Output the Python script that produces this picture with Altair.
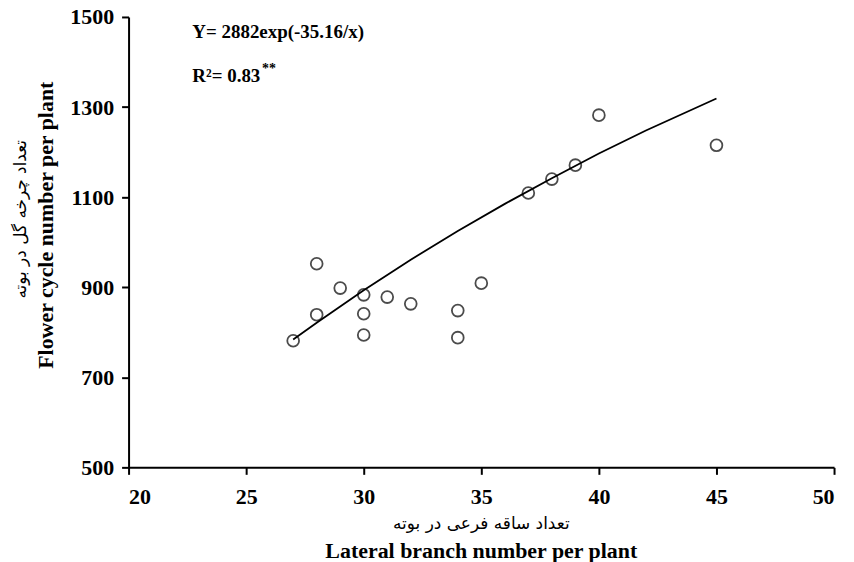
import altair as alt
import pandas as pd

branches = [27, 28, 28, 29, 30, 30, 30, 31, 32, 34, 34, 35, 37, 38, 39, 40, 45]
cycles = [781, 952, 839, 898, 883, 841, 794, 878, 863, 848, 788, 909, 1109, 1140, 1171, 1282, 1215]

# Fitted curve values
curve_x = [27, 28, 30, 32, 34, 36, 38, 40, 42, 45]
curve_y = [784, 821, 893, 961, 1025, 1085, 1142, 1197, 1248, 1319]

x_ticks = [20, 25, 30, 35, 40, 45, 50]
y_ticks = [500, 700, 900, 1100, 1300, 1500]

equation_text = "Y= 2882exp(-35.16/x)"
r2_text = "R²= 0.83"
r2_stars = "**"
x_title_en = "Lateral branch number per plant"
x_title_fa = "تعداد ساقه فرعی در بوته"
y_title_en = "Flower cycle number per plant"
y_title_fa = "تعداد چرخه گل در بوته"

W, H = 708, 452
SERIF = "Liberation Serif"

pts = pd.DataFrame({"x": branches, "y": cycles})
crv = pd.DataFrame({"x": curve_x, "y": curve_y})

xs = alt.Scale(domain=[20, 50], nice=False, zero=False)
ys = alt.Scale(domain=[500, 1500], nice=False, zero=False)

xaxis = alt.Axis(values=x_ticks, title=None, grid=False, labelPadding=12, format="d")
yaxis = alt.Axis(values=y_ticks, title=None, grid=False, labelPadding=8, format="d")

points = alt.Chart(pts).mark_point(
    shape="circle", filled=False, color="black", strokeWidth=1.8, size=140
).encode(
    x=alt.X("x:Q", scale=xs, axis=xaxis),
    y=alt.Y("y:Q", scale=ys, axis=yaxis),
)

line = alt.Chart(crv).mark_line(color="black", strokeWidth=1.8).encode(
    x=alt.X("x:Q", scale=xs),
    y=alt.Y("y:Q", scale=ys),
)

one = pd.DataFrame({"t": [0]})

def label(text, x, y, size, weight="bold", font=SERIF, angle=0, align="center", baseline="middle"):
    return alt.Chart(one).mark_text(
        text=text, font=font, fontSize=size, fontWeight=weight, color="black",
        angle=angle, align=align, baseline=baseline
    ).encode(x=alt.value(x), y=alt.value(y))

texts = [
    label(equation_text, 64, 15, 19, align="left"),
    label(r2_text, 64, 59, 19, align="left"),
    label(r2_stars, 134, 52, 14, align="left"),
    label(x_title_fa, W / 2, 509, 17, weight="normal", font="DejaVu Sans"),
    label(x_title_en, W / 2, 543, 22, baseline="alphabetic"),
    label(y_title_fa, -108, 203, 17, weight="normal", font="DejaVu Sans", angle=270),
    label(y_title_en, -83, 209, 22, angle=270),
]

chart = alt.layer(line, points, *texts).properties(
    width=W, height=H,
    autosize=alt.AutoSizeParams(type="none"),
    padding={"left": 121, "top": 8, "right": 12, "bottom": 96},
    background="white",
).configure_view(stroke=None).configure_axis(
    domainColor="black", domainWidth=2, tickColor="black", tickWidth=2,
    tickSize=7, labelFont=SERIF, labelFontWeight="bold", labelFontSize=22,
    labelColor="black",
)

chart.save("out.html", embed_options={"renderer": "svg", "actions": False})
